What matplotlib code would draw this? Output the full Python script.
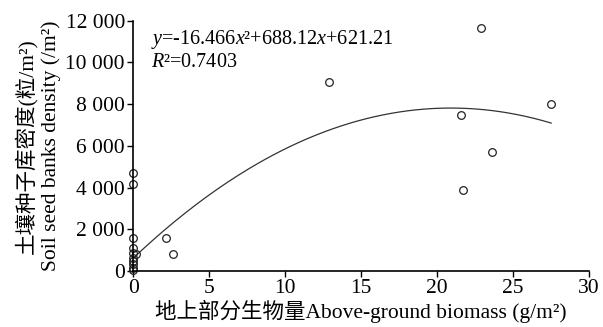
import matplotlib
matplotlib.use('Agg')
import matplotlib.pyplot as plt
import numpy as np

plt.rcParams['font.family'] = ['Liberation Serif', 'Noto Sans CJK SC']
plt.rcParams['mathtext.fontset'] = 'custom'
plt.rcParams['mathtext.rm'] = 'Liberation Serif'
plt.rcParams['mathtext.it'] = 'Liberation Serif:italic'

biomass = [0, 0, 0, 0, 0, 0, 0, 0, 0, 0, 0.2, 2.15, 2.6, 12.9, 22.9, 21.6, 21.7, 23.6, 27.5]
density = [4700, 4150, 1600, 1100, 850, 650, 500, 330, 170, 50, 800, 1580, 800, 9080, 11650, 7480, 3900, 5700, 8000]

# fitted quadratic
coef = [-16.466, 688.12, 621.21]
fit_x = np.linspace(0, 27.5, 200)
fit_y = np.polyval(coef, fit_x)

xticks = [0, 5, 10, 15, 20, 25, 30]
yticks = [0, 2000, 4000, 6000, 8000, 10000, 12000]
ytick_labels = ['0', '2 000', '4 000', '6 000', '8 000', '10 000', '12 000']

fig = plt.figure(figsize=(6.03, 3.27), dpi=100)
ax = fig.add_axes([0.221, 0.171, 0.756, 0.766])

ax.plot(fit_x, fit_y, color='#333333', linewidth=0.9)
ax.plot(biomass, density, linestyle='none', marker='o', markersize=5.5,
        markerfacecolor='none', markeredgecolor='#222222', markeredgewidth=0.9,
        clip_on=False)

ax.set_xlim(0, 30)
ax.set_ylim(0, 12000)
ax.set_xticks(xticks)
ax.set_yticks(yticks)
ax.set_yticklabels(ytick_labels)
ax.tick_params(labelsize=15.5, length=4, width=1, direction='out', pad=2)
for s in ['top', 'right']:
    ax.spines[s].set_visible(False)
for s in ['left', 'bottom']:
    ax.spines[s].set_linewidth(1.2)

ax.text(0.04, 0.905, r'$y$=-16.466$x$²+688.12$x$+621.21', transform=ax.transAxes,
        fontsize=14.5, va='baseline', ha='left')
ax.text(0.04, 0.815, r'$R$²=0.7403', transform=ax.transAxes,
        fontsize=14.5, va='baseline', ha='left')

ax.set_xlabel('地上部分生物量Above-ground biomass (g/m²)', fontsize=15.5, labelpad=1)
ax.set_ylabel('土壤种子库密度(粒/m²)\nSoil seed banks density (/m²)',
              fontsize=15.5, labelpad=3, linespacing=1.3)

fig.savefig('out.png', dpi=100)
